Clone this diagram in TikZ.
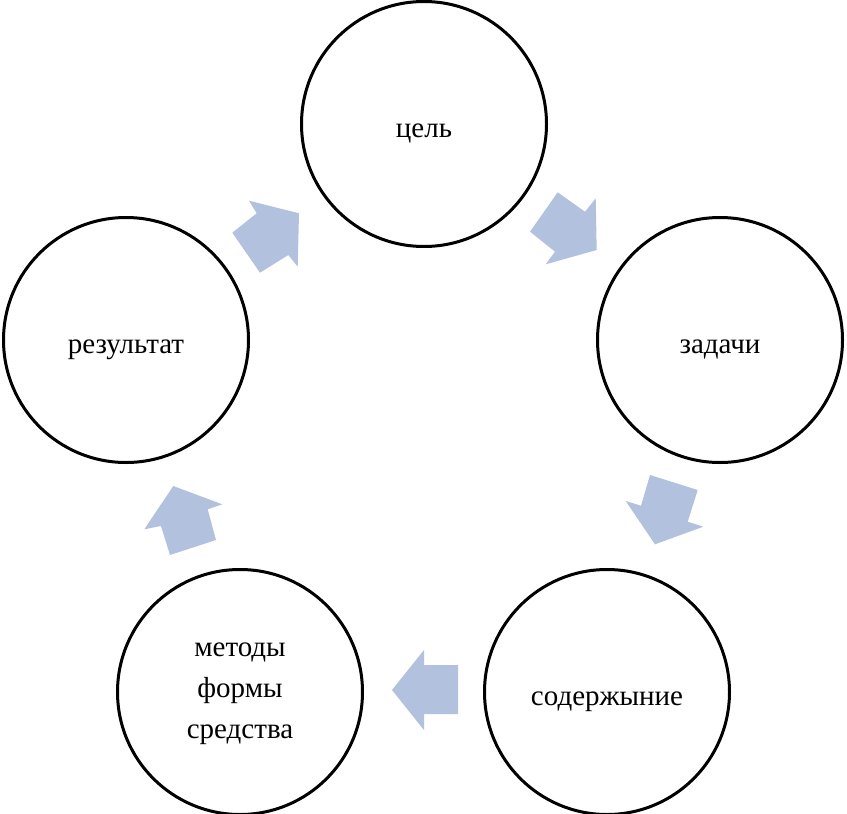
\documentclass[tikz,border=0pt]{standalone}
\usepackage{fontspec}
\setmainfont{Liberation Serif}
\definecolor{arrowblue}{RGB}{178,194,222}
\tikzset{
  stage/.style={circle, draw=black, line width=3pt, minimum size=245pt, inner sep=0pt, align=center, font=\fontsize{29}{41}\selectfont},
  lowtext/.style={text height=32pt, text depth=6pt},
  cyclearrow/.style={fill=arrowblue, draw=none}
}
\begin{document}
\begin{tikzpicture}[x=1pt,y=-1pt]
\useasboundingbox (0,0) rectangle (847,814);
\node[stage, lowtext] (goal) at (424,124) {цель};
\node[stage, lowtext] (tasks) at (720,340) {задачи};
\node[stage, lowtext] (content) at (607,692) {содержыние};
\node[stage, text depth=2pt] (methods) at (240,692) {методы\\формы\\средства};
\node[stage, lowtext] (result) at (126,340) {результат};
% arrows (cycle)
\fill[cyclearrow] (249,200.7) -- (299,213.3) -- (297.7,266.7) -- (288.3,255) -- (260,272.7) -- (232.3,232.7) -- (256.7,213.3) -- cycle;
\fill[cyclearrow] (557.7,192.3) -- (585,211.7) -- (595.7,198.3) -- (596.7,250) -- (545.7,264.3) -- (555,251.7) -- (530,231.7) -- cycle;
\fill[cyclearrow] (650,475) -- (697.7,490) -- (687.7,521.7) -- (703.3,526.7) -- (655,544.3) -- (625.7,501) -- (641,505.7) -- cycle;
\fill[cyclearrow] (458,665) -- (424,665) -- (424,650) -- (392,690) -- (424,730) -- (424,714) -- (458,714) -- cycle;
\fill[cyclearrow] (173.3,486) -- (222.3,504.3) -- (207.7,509.3) -- (216,540) -- (170,555) -- (161,526) -- (144.3,529.3) -- cycle;
\end{tikzpicture}
\end{document}
